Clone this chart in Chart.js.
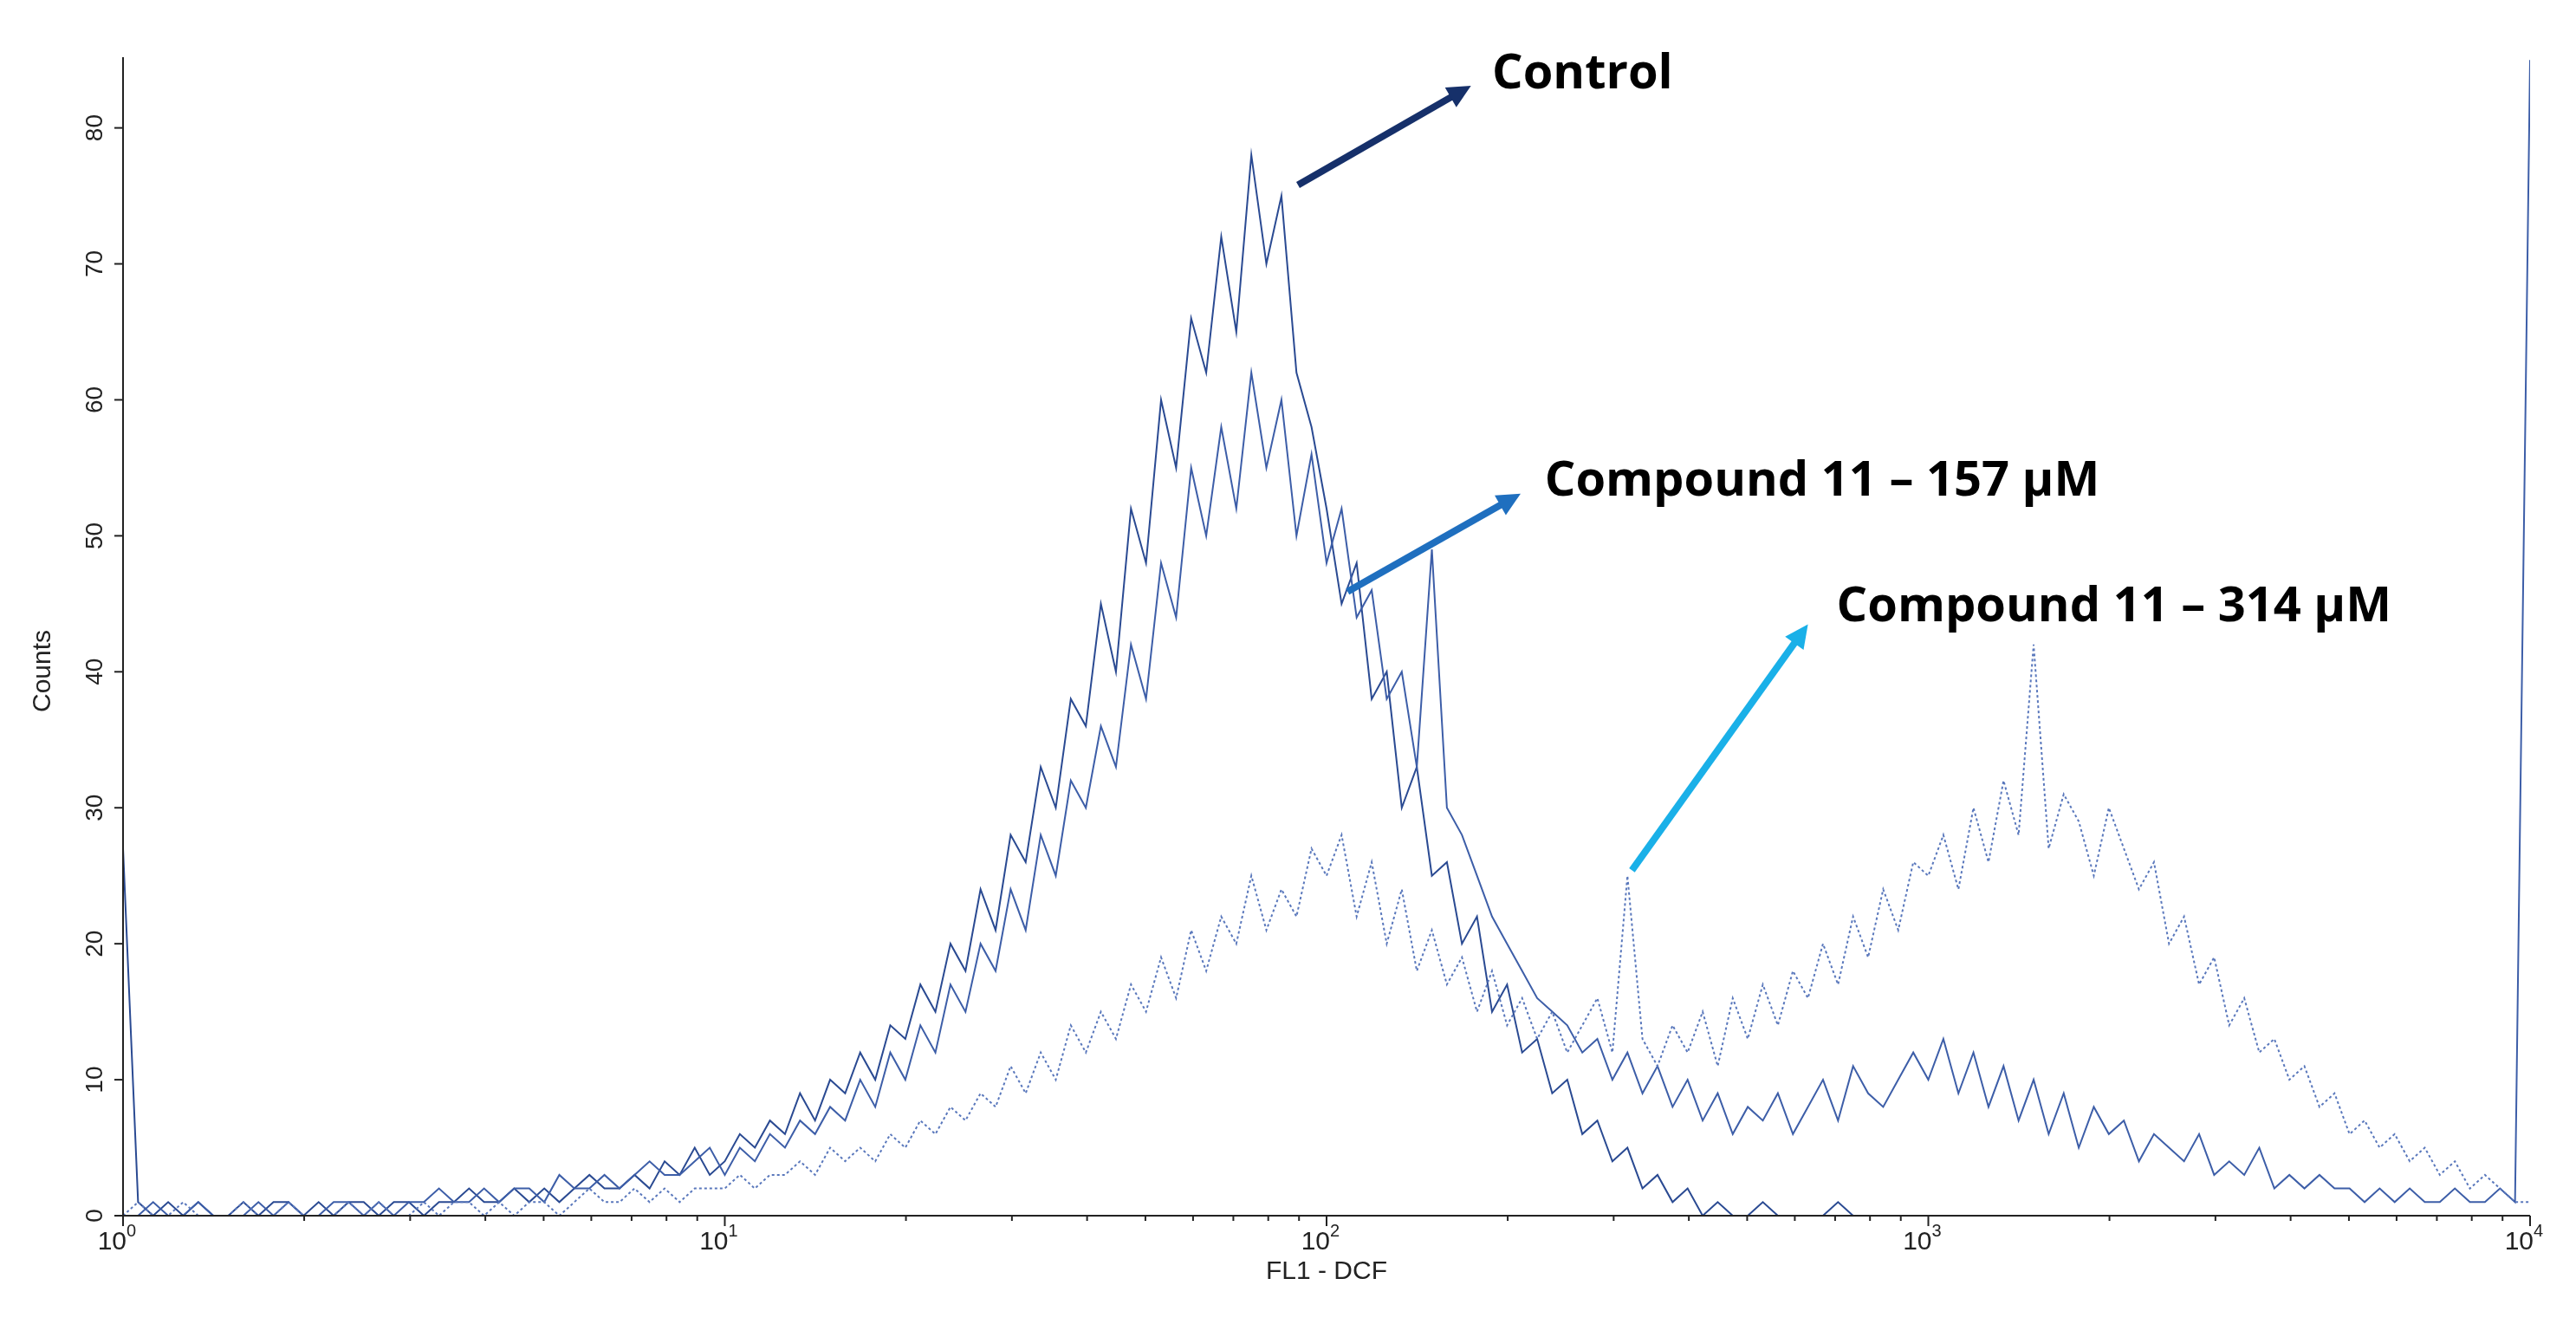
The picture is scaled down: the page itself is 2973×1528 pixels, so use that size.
<!DOCTYPE html>
<html>
<head>
<meta charset="utf-8">
<script src="https://cdn.jsdelivr.net/npm/chart.js@4.4.1/dist/chart.umd.min.js"></script>
<style>
  html, body { margin: 0; padding: 0; background: #fff; }
  #wrap { width: 2973px; height: 1528px; }
</style>
</head>
<body>
<div id="wrap"><canvas id="histChart"></canvas></div>
<script>
// channel bins: 40 per decade, bin 0 = 10^0, bin 160 = 10^4
const binsPerDecade = 40;
const decadeLabels = ['0', '1', '2', '3', '4'];
const yTicks = [0, 10, 20, 30, 40, 50, 60, 70, 80];

const controlCounts = [
  27,1,0,1,0,1,0,0,1,0,1,1,0,1,0,1,1,0,1,1,0,1,1,2,1,1,2,1,2,1,2,3,2,2,3,2,4,3,5,3,
  4,6,5,7,6,9,7,10, 9,12,10,14,13,17,15,20, 18,24,21,28,26,33,30,38, 36,45,40,52,48,60,55,66, 62,72,65,78,70,75,62,58,
  52,45,48,38,40,30,33,25, 26,20,22,15,17,12,13,9, 10,6,7,4,5,2,3,1, 2,0,1,0,0,1,0,0, 0,0,1,0,0,0,0,0,
  0,0,0,0,0,0,0,0, 0,0,0,0,0,0,0,0, 0,0,0,0,0,0,0,0, 0,0,0,0,0,0,0,0, 0,0,0,0,0,0,0,0,
  0
];
const c157Counts = [
  0,0,1,0,0,1,0,0,0,1,0,1,0,0,1,1,0,1,0,1,1,2,1,1,2,1,2,2,1,3,2,2,3,2,3,4,3,3,4,5,
  3,5,4,6,5,7,6,8, 7,10,8,12,10,14,12,17, 15,20,18,24,21,28,25,32, 30,36,33,42,38,48,44,55, 50,58,52,62,55,60,50,56,
  48,52,44,46,38,40,33,49, 30,28,25,22,20,18,16,15, 14,12,13,10,12,9,11,8, 10,7,9,6,8,7,9,6, 8,10,7,11,9,8,10,12,
  10,13,9,12,8,11,7,10, 6,9,5,8,6,7,4,6, 5,4,6,3,4,3,5,2, 3,2,3,2,2,1,2,1, 2,1,1,2,1,1,2,1,
  85
];
const c314Counts = [
  0,1,0,0,1,0,0,0,1,0,0,1,0,0,0,1,0,1,0,0,1,0,1,1,0,1,0,1,1,0,1,2,1,1,2,1,2,1,2,2,
  2,3,2,3,3,4,3,5, 4,5,4,6,5,7,6,8, 7,9,8,11,9,12,10,14, 12,15,13,17,15,19,16,21, 18,22,20,25,21,24,22,27,
  25,28,22,26,20,24,18,21, 17,19,15,18,14,16,13,15, 12,14,16,12,25,13,11,14, 12,15,11,16,13,17,14,18, 16,20,17,22,19,24,21,26,
  25,28,24,30,26,32,28,42, 27,31,29,25,30,27,24,26, 20,22,17,19,14,16,12,13, 10,11,8,9,6,7,5,6, 4,5,3,4,2,3,2,1,
  1
];

// annotation arrows: [startBin, startCount, endBin, endCount, labelBin, labelCount]
const annotations = [
  { text: 'Control', color: '#16306a', pts: [78.1, 75.8, 89.6, 83.1, 91.0, 83.9] },
  { text: 'Compound 11 \u2013 157 \u00b5M', color: '#1f6fbf', pts: [81.4, 45.9, 92.9, 53.1, 94.5, 54.0] },
  { text: 'Compound 11 \u2013 314 \u00b5M', color: '#1ab0e8', pts: [100.3, 25.4, 112.0, 43.5, 113.9, 44.7] }
];

function toPoints(arr) {
  return arr.map((v, i) => ({ x: i, y: v }));
}

const axesPlugin = {
  id: 'flowAxes',
  afterDraw(chart) {
    const { ctx, chartArea: a, scales: { x, y } } = chart;
    ctx.save();
    ctx.strokeStyle = '#222';
    ctx.fillStyle = '#222';
    ctx.lineWidth = 2;
    ctx.beginPath();
    ctx.moveTo(a.left, a.top);
    ctx.lineTo(a.left, a.bottom);
    ctx.lineTo(a.right, a.bottom);
    ctx.stroke();

    // y ticks, rotated labels
    ctx.font = '28px "Liberation Sans", Arial, sans-serif';
    ctx.textAlign = 'center';
    ctx.textBaseline = 'middle';
    yTicks.forEach(t => {
      const py = y.getPixelForValue(t);
      ctx.beginPath();
      ctx.moveTo(a.left - 10, py);
      ctx.lineTo(a.left, py);
      ctx.stroke();
      ctx.save();
      ctx.translate(a.left - 32, py);
      ctx.rotate(-Math.PI / 2);
      ctx.fillText(String(t), 0, 0);
      ctx.restore();
    });

    // x ticks: major at decades, minor at 2..9
    decadeLabels.forEach((d, k) => {
      const px = x.getPixelForValue(k * binsPerDecade);
      ctx.beginPath();
      ctx.moveTo(px, a.bottom);
      ctx.lineTo(px, a.bottom + 12);
      ctx.stroke();
      if (k < decadeLabels.length - 1) {
        for (let m = 2; m < 10; m++) {
          const mx = x.getPixelForValue((k + Math.log10(m)) * binsPerDecade);
          ctx.beginPath();
          ctx.moveTo(mx, a.bottom);
          ctx.lineTo(mx, a.bottom + 6);
          ctx.stroke();
        }
      }
      ctx.font = '30px "Liberation Sans", Arial, sans-serif';
      ctx.textAlign = 'right';
      ctx.textBaseline = 'top';
      ctx.fillText('10', px + 4, a.bottom + 16);
      ctx.font = '20px "Liberation Sans", Arial, sans-serif';
      ctx.textAlign = 'left';
      ctx.fillText(d, px + 4, a.bottom + 8);
    });

    // axis titles
    ctx.font = '30px "Liberation Sans", Arial, sans-serif';
    ctx.textAlign = 'center';
    ctx.textBaseline = 'middle';
    ctx.fillText('FL1 - DCF', x.getPixelForValue(2 * binsPerDecade), a.bottom + 65);
    ctx.save();
    ctx.translate(50, (a.top + a.bottom) / 2 + 40);
    ctx.rotate(-Math.PI / 2);
    ctx.fillText('Counts', 0, 0);
    ctx.restore();

    // arrows and labels
    annotations.forEach(an => {
      const [sb, sc, eb, ec, lb, lc] = an.pts;
      const x1 = x.getPixelForValue(sb), y1 = y.getPixelForValue(sc);
      const x2 = x.getPixelForValue(eb), y2 = y.getPixelForValue(ec);
      const ang = Math.atan2(y2 - y1, x2 - x1);
      const head = 30;
      ctx.strokeStyle = an.color;
      ctx.fillStyle = an.color;
      ctx.lineWidth = 8;
      ctx.beginPath();
      ctx.moveTo(x1, y1);
      ctx.lineTo(x2 - Math.cos(ang) * head * 0.8, y2 - Math.sin(ang) * head * 0.8);
      ctx.stroke();
      ctx.beginPath();
      ctx.moveTo(x2, y2);
      ctx.lineTo(x2 - head * Math.cos(ang - 0.45), y2 - head * Math.sin(ang - 0.45));
      ctx.lineTo(x2 - head * Math.cos(ang + 0.45), y2 - head * Math.sin(ang + 0.45));
      ctx.closePath();
      ctx.fill();

      ctx.fillStyle = '#000';
      ctx.font = 'bold 56px "Liberation Sans Narrow", "Open Sans", sans-serif';
      ctx.textAlign = 'left';
      ctx.textBaseline = 'middle';
      ctx.fillText(an.text, x.getPixelForValue(lb), y.getPixelForValue(lc));
    });
    ctx.restore();
  }
};

document.addEventListener('DOMContentLoaded', function() {
  const ctx = document.getElementById('histChart').getContext('2d');
  new Chart(ctx, {
    type: 'line',
    data: {
      datasets: [
        {
          label: 'Compound 11 – 314 µM',
          data: toPoints(c314Counts),
          borderColor: '#5a78bc',
          borderWidth: 2,
          borderDash: [3, 3],
          pointRadius: 0,
          tension: 0
        },
        {
          label: 'Compound 11 – 157 µM',
          data: toPoints(c157Counts),
          borderColor: '#3d5ea8',
          borderWidth: 2,
          pointRadius: 0,
          tension: 0
        },
        {
          label: 'Control',
          data: toPoints(controlCounts),
          borderColor: '#2a4a92',
          borderWidth: 2,
          pointRadius: 0,
          tension: 0
        }
      ]
    },
    options: {
      responsive: true,
      maintainAspectRatio: false,
      animation: false,
      layout: { padding: { left: 142, right: 53, top: 66, bottom: 125 } },
      scales: {
        x: { type: 'linear', min: 0, max: 4 * binsPerDecade, display: false },
        y: { min: 0, max: 85.2, display: false }
      },
      plugins: {
        legend: { display: false },
        tooltip: { enabled: false }
      }
    },
    plugins: [axesPlugin]
  });
});
</script>
</body>
</html>
